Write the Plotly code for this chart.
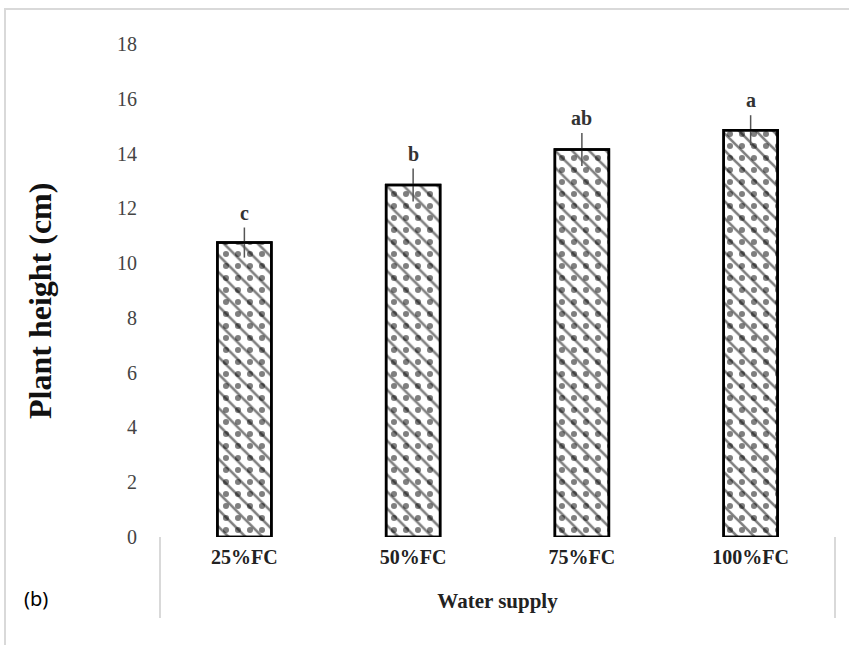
import plotly.graph_objects as go

categories = ["25%FC", "50%FC", "75%FC", "100%FC"]
heights = [10.75, 12.85, 14.15, 14.85]
errors = [0.55, 0.6, 0.6, 0.55]
letters = ["c", "b", "ab", "a"]
y_ticks = [0, 2, 4, 6, 8, 10, 12, 14, 16, 18]

W, H = 849, 645
L, R, T, B = 160, 14, 44, 108
pw, ph = W - L - R, H - T - B

def px_x(p):
    return (p - L) / pw

def px_y(p):
    return (H - B - p) / ph

serif = "Liberation Serif, Times New Roman, serif"

fig = go.Figure()
fig.add_trace(go.Bar(
    x=categories, y=heights, width=0.32,
    marker=dict(color="white", line=dict(color="black", width=2.5),
                pattern=dict(shape="\\", fgcolor="black", bgcolor="white", size=12, solidity=0.22)),
    error_y=dict(type="data", array=errors, visible=True, color="#555555", thickness=1.5, width=0),
    showlegend=False, hoverinfo="skip",
))
fig.add_trace(go.Bar(
    x=categories, y=heights, width=0.32,
    marker=dict(color="rgba(0,0,0,0)", line=dict(color="black", width=2.5),
                pattern=dict(shape=".", fgcolor="black", bgcolor="rgba(0,0,0,0)", size=12, solidity=0.2)),
    showlegend=False, hoverinfo="skip",
))

for c, h, e, t in zip(categories, heights, errors, letters):
    fig.add_annotation(x=c, y=h + e, text="<b>" + t + "</b>", showarrow=False, yanchor="bottom", yshift=2,
                       font=dict(family=serif, size=20, color="#333333"))

shapes = [
    dict(type="rect", xref="paper", yref="paper", x0=px_x(5), x1=px_x(870), y0=px_y(9), y1=px_y(670),
         line=dict(color="#d9d9d9", width=2), layer="below"),
    dict(type="line", xref="paper", yref="paper", x0=0, x1=0, y0=0, y1=px_y(618),
         line=dict(color="#d9d9d9", width=2)),
    dict(type="line", xref="paper", yref="paper", x0=1, x1=1, y0=0, y1=px_y(618),
         line=dict(color="#d9d9d9", width=2)),
]

fig.add_annotation(xref="paper", yref="paper", x=px_x(36), y=px_y(598), text="(b)", showarrow=False,
                   xanchor="center", yanchor="middle",
                   font=dict(family="Noto Sans, sans-serif", size=20, color="black"))

fig.add_annotation(xref="paper", yref="paper", x=px_x(40), y=px_y(301), text="<b>Plant height (cm)</b>",
                   showarrow=False, textangle=-90, xanchor="center", yanchor="middle",
                   font=dict(family=serif, size=32, color="#111111"))

fig.update_layout(
    width=W, height=H, margin=dict(l=L, r=R, t=T, b=B),
    paper_bgcolor="white", plot_bgcolor="white",
    barmode="overlay", bargap=0.68,
    shapes=shapes,
    xaxis=dict(showline=False, showgrid=False, zeroline=False, ticks="",
               tickfont=dict(family=serif, size=20, color="#222222", weight="bold"),
               ticklabelstandoff=6,
               title=dict(text="<b>Water supply</b>", font=dict(family=serif, size=21, color="#222222"), standoff=26)),
    yaxis=dict(range=[0, 18], tickvals=y_ticks, showline=False, showgrid=False, zeroline=False, ticks="",
               tickfont=dict(family=serif, size=20, color="#444444"),
               ticklabelstandoff=22),
)

fig.write_html("out.html", post_script="document.body.style.margin='0';",
               config={"displayModeBar": False})
